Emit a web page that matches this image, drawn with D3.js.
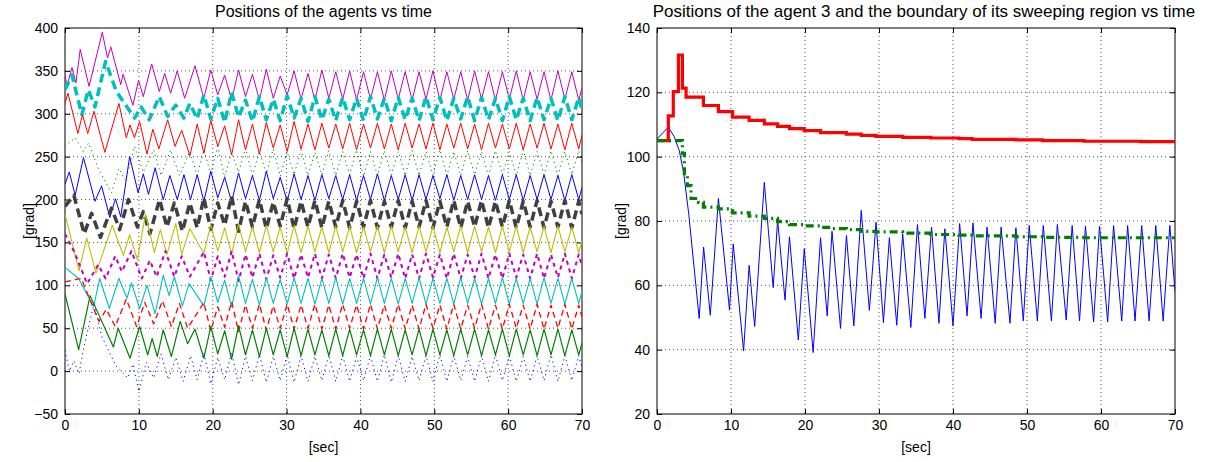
<!DOCTYPE html>
<html>
<head>
<meta charset="utf-8">
<script src="https://cdn.jsdelivr.net/npm/d3@7"></script>
<style>
  body { margin: 0; background: #fff; }
  svg text { font-family: 'Liberation Sans', Arial, sans-serif; fill: #000; }
</style>
</head>
<body>
<svg id="viz"></svg>
<script>
// ---- data ----
const timeTicks = [0, 10, 20, 30, 40, 50, 60, 70]
const posTicks = [-50, 0, 50, 100, 150, 200, 250, 300, 350, 400]
const sweepTicks = [20, 40, 60, 80, 100, 120, 140]

// left panel: irregular start [t, v] for each agent, then values on a common time grid
const gridTimes = [18.8, 19.74, 20.68, 21.62, 22.56, 23.5, 24.44, 25.38, 26.32, 27.26,
  28.2, 29.14, 30.08, 31.02, 31.96, 32.9, 33.84, 34.78, 35.72, 36.66,
  37.6, 38.54, 39.48, 40.42, 41.36, 42.3, 43.24, 44.18, 45.12, 46.06,
  47, 47.94, 48.88, 49.82, 50.76, 51.7, 52.64, 53.58, 54.52, 55.46,
  56.4, 57.34, 58.28, 59.22, 60.16, 61.1, 62.04, 62.98, 63.92, 64.86,
  65.8, 66.74, 67.68, 68.62, 69.56, 70]

const magentaStart = [[0,345],[0.27,332],[0.94,354],[1.48,336],[2.06,375],[3.26,332],[5.05,395],[5.76,365],[6.2,378],[7.55,334],[7.86,346],[9.2,310],[9.96,339],[10.6,320],[11.74,358],[12.77,326],[13.5,347],[14.3,324],[15.2,350],[16.2,318],[17.6,356]]
const magentaGrid = [318,351,322,345,316,351,320,346,316,352, 318,344,322,350,317,347,316,351,318,349,
  317,350,316,349,317,349,316,350,317,349, 316,349,317,350,316,349,317,349,316,350,
  317,349,316,349,317,350,316,349,317,349, 316,350,317,349,316, 330]

const cyanDashStart = [[0,328],[0.94,345],[2.28,299],[3.17,328],[4.06,308],[5.49,361],[6.96,326],[9.42,295],[10.3,308],[11.4,293],[12.76,320],[13.9,297],[15,310],[16.1,295],[16.9,312],[17.9,294]]
const cyanDashGrid = [322,294,318,290,325,296,316,291,320,293, 317,292,321,295,318,291,320,293,317,292,
  319,293,318,292,320,294,318,292,319,293, 318,292,320,293,319,292,318,294,320,292,
  319,293,318,292,320,293,318,292,319,293, 318,292,320,293,319, 305]

const redStart = [[0,312],[0.4,324],[1.74,277],[2.37,299],[3.08,277],[3.93,303],[5.4,255],[7.3,312],[8.3,272],[8.8,287],[9.4,272],[10.1,291],[11.1,253],[11.9,282],[12.7,259],[13.9,293],[14.9,262],[15.8,281],[16.9,251],[17.9,288]]
const redGrid = [254,292,262,286,252,293,258,288,253,290, 260,287,256,291,259,288,258,289,260,288,
  259,289,258,288,260,289,259,288,258,289, 260,288,259,289,258,288,260,289,259,288,
  258,289,260,288,259,289,258,288,260,289, 259,288,258,289,259, 275]

const greenDotStart = [[0,262],[1.4,272],[2.5,256],[3.2,266],[4.5,236],[6.3,208],[7.3,236],[8.2,222],[9.4,262],[10.6,232],[12,258],[13,228],[14.3,258],[15.5,228],[16.9,256],[17.9,228]]
const greenDotGrid = [258,230,262,226,255,232,260,228,256,230, 259,227,256,229,258,228,255,229,257,228,
  256,229,258,227,256,228,257,229,256,228, 257,228,256,229,258,228,256,228,257,229,
  256,228,257,229,256,228,258,228,256,229, 257,228,256,229,257, 243]

const blueStart = [[0,218],[0.58,232],[1.38,205],[2.5,249],[4.06,198],[4.95,216],[6.07,179],[6.83,201],[7.55,180],[8.75,250],[9.9,208],[10.6,230],[11.3,206],[12.2,237],[13.3,200],[14.2,228],[15.2,200],[16.1,229],[17,200],[17.9,229]]
const blueGrid = [198,233,202,226,197,231,201,228,199,233, 201,226,198,230,200,228,199,229,201,228,
  200,229,199,228,200,230,199,228,200,229, 199,229,200,228,201,229,199,228,200,229,
  200,228,199,229,200,229,199,228,200,229, 200,228,199,229,200, 214]

const grayDashStart = [[0,192],[1.2,205],[2.6,160],[3.6,184],[4.8,156],[6.3,190],[7.4,165],[8.6,200],[9.8,168],[10.6,186],[11.5,160],[12.8,200],[13.8,168],[14.8,196],[15.9,163],[16.9,196],[17.9,167]]
const grayDashGrid = [202,165,196,170,204,163,198,168,200,166, 197,169,201,166,198,168,199,167,198,168,
  199,167,198,168,199,167,198,168,199,167, 198,168,199,167,198,168,199,167,198,168,
  199,167,198,168,199,167,198,168,199,167, 198,168,199,167,198, 183]

const yellowStart = [[0,183],[1.9,117],[2.95,155],[4.2,114],[6.4,170],[7.9,135],[8.75,159],[9.8,130],[10.9,183],[12.1,138],[12.9,165],[13.8,136],[15,172],[15.8,136],[16.9,166]]
const yellowGrid = [137,171,140,167,136,172,139,168,138,170, 139,168,137,170,138,169,139,168,138,169,
  139,169,138,168,139,169,138,169,139,168, 138,169,139,169,138,168,139,169,138,169,
  139,168,138,169,139,169,138,168,139,169, 138,169,139,168,138, 152]

const magentaDashStart = [[0,160],[1.2,140],[3,102],[4.5,124],[5.5,108],[6.8,134],[7.7,116],[9,140],[10.4,108],[11.5,129],[12.4,110],[13.6,140],[14.8,110],[15.8,134],[16.9,110]]
const magentaDashGrid = [139,106,134,110,140,105,136,109,137,107, 135,109,137,108,136,109,137,108,136,108,
  137,109,136,108,137,108,136,109,137,108, 136,108,137,109,136,108,137,108,136,109,
  137,108,136,108,137,109,136,108,137,108, 136,109,137,108,136, 122]

const cyanStart = [[0,121],[1.83,108],[3.4,83],[3.9,76],[4.7,108],[6,73],[7.3,108],[8.4,85],[9,103],[10.1,73],[11.1,100],[12.2,67],[13.3,112],[14.1,88],[14.8,110],[15.9,76],[16.8,102]]
const cyanGrid = [76,110,80,106,75,111,79,107,77,109, 79,107,78,109,79,108,78,108,79,109,
  78,108,79,108,78,109,79,108,78,108, 79,109,78,108,79,108,78,109,79,108,
  78,108,79,109,78,108,79,108,78,109, 79,108,78,108,79, 93]

const redDashStart = [[0,104],[1,106],[2.2,108],[3.3,85],[4.6,58],[5.6,72],[6.8,52],[8.3,84],[9.7,52],[10.8,80],[12,55],[13.2,82],[14.4,52],[15.5,79],[16.6,50]]
const redDashGrid = [80,47,75,51,81,46,77,50,78,48, 76,50,78,49,77,50,78,49,77,49,
  78,50,77,49,78,49,77,50,78,49, 77,49,78,50,77,49,78,49,77,50,
  78,49,77,49,78,50,77,49,78,49, 77,50,78,49,77, 63]

const greenStart = [[0,90],[1.85,25],[3.4,88],[6.55,28],[7.2,50],[8.8,15],[10.1,52],[11.2,19],[11.8,38],[12.5,17],[13.3,48],[14.4,17],[15.6,58],[16.6,32],[17.6,49]]
const greenGrid = [15,52,20,47,14,53,19,48,17,50, 19,48,17,50,18,49,19,48,18,49,
  18,49,19,48,18,49,19,49,18,48, 19,49,18,49,19,48,18,49,19,49,
  18,48,19,49,18,49,19,48,18,49, 19,49,18,48,19, 33]

const blueDotStart = [[0,24],[0.6,0],[1.2,12],[1.9,-3],[2.6,30],[3.9,78],[5,40],[6.3,17],[7,5],[8.5,-8],[9.2,8],[10,-24],[11,10],[12,-8],[13,20],[14,-10],[15,16],[16,-12],[17,18],[17.9,-10]]
const blueDotGrid = [21,-15,16,-10,22,-16,17,-11,19,-13, 17,-11,19,-13,18,-12,17,-11,19,-12,
  18,-12,17,-11,18,-12,19,-13,18,-12, 17,-11,18,-12,19,-12,18,-11,17,-12,
  18,-12,19,-11,18,-12,17,-12,18,-11, 19,-12,18,-11,18, 4]

// right panel: agent 3 and its sweeping boundaries
const agent3Times = [0,1.53,2.3,3,3.6,4.3,5.7,6.3,7.2,8.3,9.8,10.3,11.7,12.45,13.2,14.5,15.7,16.3,17.3,17.9,
  19.1,19.9,21.1,22.1,23,23.65,24.8,25.6,26.6,27.6,28.7,29.6,30.6,31.4,32.4,33.2,34.3,35.2,36.2,37.1,
  38.1,38.9,40,40.9,41.9,42.7,43.8,44.6,45.7,46.5,47.7,48.5,49.5,50.3,51.4,52.2,53.3,54.1,55.3,56.1,
  57.1,57.9,59,59.8,60.9,61.7,62.8,63.6,64.6,65.5,66.5,67.4,68.4,69.3,70]
const agent3Pos = [105.5,109.2,106.3,102,95,82,49.7,71.9,50.7,87,52.3,72.9,39.6,66.2,47.2,92,59.3,80.3,55.4,75.1,
  43,71.4,39.1,74.8,50.5,76.8,46.6,75.5,47.4,83.3,52.2,79.6,48.4,74.8,47.6,76,46.9,78.9,49.7,78.1,
  48.2,77.6,47.4,79.2,50.5,79.4,49.7,78.1,48.2,78.1,48.2,77.9,48.9,78.6,48.9,78.6,48.9,78.9,49.2,78.6,
  48.9,78.4,48.6,78.4,48.6,78.6,48.9,78.6,48.9,78.6,48.9,78.6,48.9,78.6,58]

const upperTimes = [0,1.53,2.2,2.9,3.43,3.93,6.27,8.3,10.2,12.45,14.5,16.3,17.9,19.9,22.1,25.6,27.6,29.6,33.2,37,40.8,42.6,48.5,52.1,57.7,65.4,70]
const upperPos = [105,112.7,120.2,131.6,121.3,118.5,115.9,114,112.3,111.3,110.2,109.4,108.7,108.1,107.5,107,106.6,106.3,106,105.8,105.6,105.4,105.2,105,104.8,104.7,104.7]

const lowerTimes = [0,3.43,3.7,4.1,4.6,5.6,6.27,8.3,10.2,12.45,14.5,16.3,17.9,19.9,22.1,23.6,25.6,27.6,29.6,33.2,37,40.8,42.6,48.5,52.1,57.7,70]
const lowerPos = [105,101,94,91,87,85.8,84.3,83.8,82.5,81.5,80.8,79.8,78.9,78.5,78,77.6,77.3,76.8,76.6,76.2,75.8,75.6,75.4,75.1,74.9,74.8,74.8]

// ---- layout ----
const width = 1216
const height = 462
const plotTop = 28
const plotBottom = 414

const svg = d3.select('#viz').attr('width', width).attr('height', height)

const xL = d3.scaleLinear().domain([0, 70]).range([65, 582])
const yL = d3.scaleLinear().domain([-50, 400]).range([plotBottom, plotTop])
const xR = d3.scaleLinear().domain([0, 70]).range([657, 1175])
const yR = d3.scaleLinear().domain([20, 140]).range([plotBottom, plotTop])

function frame(x, y, yTicks, title, titleSize, titleShift, clipId) {
  const [x0, x1] = x.range()
  const g = svg.append('g')

  svg.append('clipPath').attr('id', clipId)
    .append('rect').attr('x', x0).attr('y', plotTop).attr('width', x1 - x0).attr('height', plotBottom - plotTop)

  // dotted grid
  g.append('g')
    .selectAll('line')
    .data(timeTicks.slice(1, -1))
    .join('line')
    .attr('x1', (d) => x(d)).attr('x2', (d) => x(d))
    .attr('y1', plotTop).attr('y2', plotBottom)
    .attr('stroke', '#555').attr('stroke-dasharray', '1,3')
  g.append('g')
    .selectAll('line')
    .data(yTicks.slice(1, -1))
    .join('line')
    .attr('x1', x0).attr('x2', x1)
    .attr('y1', (d) => y(d)).attr('y2', (d) => y(d))
    .attr('stroke', '#555').attr('stroke-dasharray', '1,3')

  const fmt = (d) => (d < 0 ? '\u2212' + Math.abs(d) : d)

  g.append('g')
    .attr('transform', `translate(0, ${plotBottom})`)
    .call(d3.axisBottom(x).tickValues(timeTicks).tickSizeInner(-5).tickSizeOuter(0).tickPadding(6))
    .call((a) => a.select('.domain').remove())
  g.append('g')
    .attr('transform', `translate(0, ${plotTop})`)
    .call(d3.axisTop(x).tickValues(timeTicks).tickSizeInner(-5).tickSizeOuter(0).tickFormat(''))
    .call((a) => a.select('.domain').remove())
  g.append('g')
    .attr('transform', `translate(${x0}, 0)`)
    .call(d3.axisLeft(y).tickValues(yTicks).tickSizeInner(-5).tickSizeOuter(0).tickPadding(7).tickFormat(fmt))
    .call((a) => a.select('.domain').remove())
  g.append('g')
    .attr('transform', `translate(${x1}, 0)`)
    .call(d3.axisRight(y).tickValues(yTicks).tickSizeInner(-5).tickSizeOuter(0).tickFormat(''))
    .call((a) => a.select('.domain').remove())

  g.selectAll('.tick text')
    .attr('font-size', 14)
    .attr('font-family', "'Liberation Sans', Arial, sans-serif")
  g.selectAll('.tick line').attr('stroke', '#000')

  g.append('rect')
    .attr('x', x0).attr('y', plotTop)
    .attr('width', x1 - x0).attr('height', plotBottom - plotTop)
    .attr('fill', 'none').attr('stroke', '#000')

  g.append('text')
    .attr('x', (x0 + x1) / 2 + titleShift).attr('y', 17)
    .attr('text-anchor', 'middle').attr('font-size', titleSize)
    .text(title)
  g.append('text')
    .attr('x', (x0 + x1) / 2).attr('y', 452)
    .attr('text-anchor', 'middle').attr('font-size', 14)
    .text('[sec]')
  g.append('text')
    .attr('transform', `translate(${x0 - 31}, ${(plotTop + plotBottom) / 2}) rotate(-90)`)
    .attr('text-anchor', 'middle').attr('font-size', 14)
    .text('[grad]')
}

frame(xL, yL, posTicks, 'Positions of the agents vs time', 16, 0, 'clipL')
frame(xR, yR, sweepTicks, 'Positions of the agent 3 and the boundary of its sweeping region vs time', 17, 8, 'clipR')

// ---- left panel lines ----
const leftSeries = [
  { start: magentaStart, grid: magentaGrid, color: '#bf00bf', w: 1, dash: null },
  { start: cyanDashStart, grid: cyanDashGrid, color: '#00bfbf', w: 3.5, dash: '9,5' },
  { start: redStart, grid: redGrid, color: '#ff0000', w: 1, dash: null },
  { start: greenDotStart, grid: greenDotGrid, color: '#008000', w: 1, dash: '1.2,3.5' },
  { start: blueStart, grid: blueGrid, color: '#0000ff', w: 1, dash: null },
  { start: grayDashStart, grid: grayDashGrid, color: '#404040', w: 3.5, dash: '9,5' },
  { start: yellowStart, grid: yellowGrid, color: '#bfbf00', w: 1.1, dash: null },
  { start: magentaDashStart, grid: magentaDashGrid, color: '#bf00bf', w: 2, dash: '4,4' },
  { start: cyanStart, grid: cyanGrid, color: '#00bfbf', w: 1.1, dash: null },
  { start: redDashStart, grid: redDashGrid, color: '#ff0000', w: 1.3, dash: '6,4' },
  { start: greenStart, grid: greenGrid, color: '#008000', w: 1.2, dash: null },
  { start: blueDotStart, grid: blueDotGrid, color: '#0000ff', w: 1, dash: '1.2,3.5' }
]

const lineL = d3.line().x((d) => xL(d[0])).y((d) => yL(d[1]))

svg.append('g')
  .attr('clip-path', 'url(#clipL)')
  .selectAll('path')
  .data(leftSeries)
  .join('path')
  .attr('d', (s) => lineL(s.start.concat(gridTimes.map((t, i) => [t, s.grid[i]]))))
  .attr('fill', 'none')
  .attr('stroke', (s) => s.color)
  .attr('stroke-width', (s) => s.w)
  .attr('stroke-dasharray', (s) => s.dash)
  .attr('stroke-linejoin', 'round')

// ---- right panel lines ----
const gR = svg.append('g').attr('clip-path', 'url(#clipR)')

gR.append('path')
  .datum(agent3Times.map((t, i) => [t, agent3Pos[i]]))
  .attr('d', d3.line().x((d) => xR(d[0])).y((d) => yR(d[1])))
  .attr('fill', 'none').attr('stroke', '#0000ff').attr('stroke-width', 1)

gR.append('path')
  .datum(upperTimes.map((t, i) => [t, upperPos[i]]))
  .attr('d', d3.line().curve(d3.curveStepAfter).x((d) => xR(d[0])).y((d) => yR(d[1])))
  .attr('fill', 'none').attr('stroke', '#ff0000').attr('stroke-width', 3.2)

gR.append('path')
  .datum(lowerTimes.map((t, i) => [t, lowerPos[i]]))
  .attr('d', d3.line().curve(d3.curveStepAfter).x((d) => xR(d[0])).y((d) => yR(d[1])))
  .attr('fill', 'none').attr('stroke', '#008000').attr('stroke-width', 3.2)
  .attr('stroke-dasharray', '8,4,2,4')
</script>
</body>
</html>
